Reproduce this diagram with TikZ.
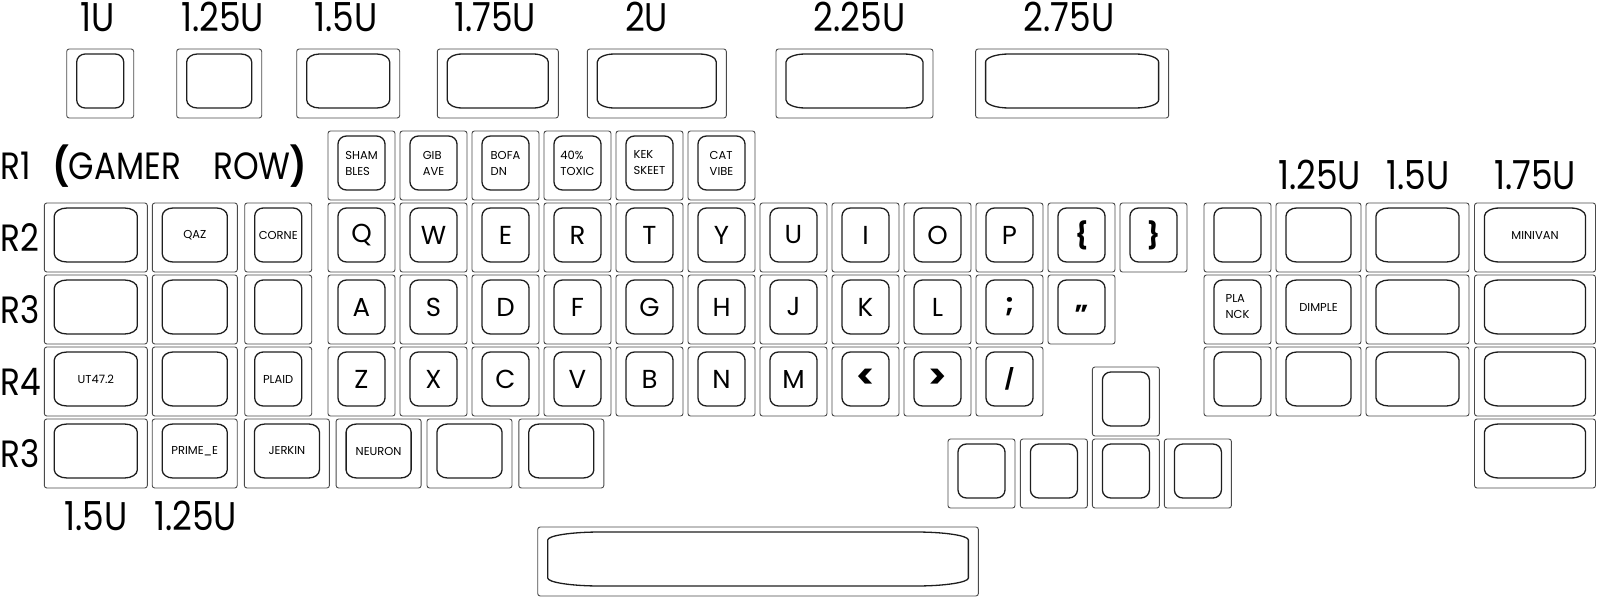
\documentclass[tikz,border=0pt]{standalone}
\usepackage{fontspec}
\setmainfont{Poppins}
\newfontfamily\darPoppins{Poppins}[FakeStretch=0.86]
\usepackage{xcolor}
\usepackage{tikz}
\definecolor{kenarGri}{HTML}{4A4A4A}
\definecolor{tusKoyu}{HTML}{1E1E1E}

\newcommand{\capkey}[6][]{%
  \pgfmathsetmacro{\kx}{#3}%
  \pgfmathsetmacro{\ky}{#4}%
  \pgfmathsetmacro{\kw}{72*#5-5}%
  \pgfmathsetmacro{\krx}{max(8,8.5*#5)}%
  \pgfmathsetmacro{\kl}{\kx+10}%
  \pgfmathsetmacro{\kr}{\kx+\kw-10}%
  \pgfmathsetmacro{\kt}{\ky+5}%
  \pgfmathsetmacro{\kb}{\ky+59}%
  \draw[keyrim] (\kx,\ky) rectangle ++(\kw,69);
  \draw[keytop] (\kl,\kt+8) .. controls (\kl,\kt+3.6) and (\kl+0.45*\krx,\kt) .. (\kl+\krx,\kt)
    -- (\kr-\krx,\kt) .. controls (\kr-0.45*\krx,\kt) and (\kr,\kt+3.6) .. (\kr,\kt+8)
    -- (\kr,\kb-8) .. controls (\kr,\kb-3.6) and (\kr-0.45*\krx,\kb) .. (\kr-\krx,\kb)
    -- (\kl+\krx,\kb) .. controls (\kl+0.45*\krx,\kb) and (\kl,\kb-3.6) .. (\kl,\kb-8) -- cycle;
  \node[keytext,#1] (#2) at ({\kx+\kw/2},{\ky+32}) {#6};
}
\newcommand{\isaret}[1]{\textbf{\fontsize{34}{36}\selectfont #1}}

\begin{document}
\begin{tikzpicture}[x=1pt,y=-1pt,
  keyrim/.style={draw=kenarGri,line width=0.9pt,rounded corners=2.5pt},
  keytop/.style={draw=tusKoyu,line width=1.3pt},
  keytext/.style={text=black,align=left,inner sep=0pt,font=\fontsize{26}{28}\selectfont},
  smalltext/.style={font=\fontsize{11.5}{16}\selectfont},
  sizetext/.style={anchor=base,inner sep=0pt,font=\darPoppins\fontsize{40}{44}\selectfont},
  rowtext/.style={anchor=base west,inner sep=0pt,font=\darPoppins\fontsize{38}{42}\selectfont}]
\useasboundingbox (0,0) rectangle (1597,597);

\capkey{sablonA}{66.7}{49}{1}{}
\capkey{sablonB}{176.7}{49}{1.25}{}
\capkey{sablonC}{296.7}{49}{1.5}{}
\capkey{sablonD}{437.3}{49}{1.75}{}
\capkey{sablonE}{587.3}{49}{2}{}
\capkey{sablonF}{776}{49}{2.25}{}
\capkey{sablonG}{975.6}{49}{2.75}{}
\node[sizetext] (boyA) at (98,31.7) {1U};
\node[sizetext] (boyB) at (222.5,31.7) {1.25U};
\node[sizetext] (boyC) at (346,31.7) {1.5U};
\node[sizetext] (boyD) at (495,31.7) {1.75U};
\node[sizetext] (boyE) at (646.7,31.7) {2U};
\node[sizetext] (boyF) at (859.5,31.7) {2.25U};
\node[sizetext] (boyG) at (1069,31.7) {2.75U};

\node[rowtext] (satirA) at (0,179.3) {R1};
\node[rowtext] (oyuncu) at (53,179.3) {\textbf{(}GAMER\hspace{0.85em}ROW\textbf{)}};
\node[rowtext] (satirB) at (0,251) {R2};
\node[rowtext] (satirC) at (0,323) {R3};
\node[rowtext] (satirD) at (0,395) {R4};
\node[rowtext] (satirE) at (0,467) {R3};

\foreach \lab [count=\i from 0] in {SHAM\\BLES,GIB\\AVE,BOFA\\DN,40\%\\TOXIC,KEK\\SKEET,CAT\\VIBE}
  {\capkey[smalltext]{oyunT\i}{328+72*\i}{131}{1}{\lab}}
\foreach \lab [count=\i from 0] in {Q,W,E,R,T,Y,U,I,O,P,\textbf{\{},\textbf{\}}}
  {\capkey{ustT\i}{328+72*\i}{203}{1}{\lab}}
\foreach \lab [count=\i from 0] in {A,S,D,F,G,H,J,K,L,\textbf{;},\vphantom{A}\smash{\raisebox{-7pt}{\textbf{"}}}}
  {\capkey{ortaT\i}{328+72*\i}{275}{1}{\lab}}
\foreach \lab [count=\i from 0] in {Z,X,C,V,B,N,M,\isaret{<},\isaret{>},\textbf{\fontsize{20}{22}\selectfont/}}
  {\capkey{altT\i}{328+72*\i}{347}{1}{\lab}}

\capkey{solB1}{44.3}{203}{1.5}{}
\capkey[smalltext]{solB2}{152.3}{203}{1.25}{QAZ}
\capkey[smalltext]{solB3}{244.7}{203}{1}{CORNE}
\capkey{solC1}{44.3}{275}{1.5}{}
\capkey{solC2}{152.3}{275}{1.25}{}
\capkey{solC3}{244.7}{275}{1}{}
\capkey[smalltext]{solD1}{44.3}{347}{1.5}{UT47.2}
\capkey{solD2}{152.3}{347}{1.25}{}
\capkey[smalltext]{solD3}{244.7}{347}{1}{PLAID}
\capkey{solE1}{44.3}{419}{1.5}{}
\capkey[smalltext]{solE2}{152.2}{419}{1.25}{PRIME\_E}
\capkey[smalltext]{solE3}{244.4}{419}{1.25}{JERKIN}
\capkey[smalltext]{solE4}{336.1}{419}{1.25}{NEURON}
\capkey{solE5}{427}{419}{1.25}{}
\capkey{solE6}{518.8}{419}{1.25}{}
\node[sizetext] (boyH) at (95.7,530) {1.5U};
\node[sizetext] (boyI) at (195.5,530) {1.25U};

\capkey{bosluk}{537.7}{527}{6.19}{}

\capkey{okYukari}{1092.4}{367}{1}{}
\capkey{okSol}{948}{439}{1}{}
\capkey{okAsagi}{1020.4}{439}{1}{}
\capkey{okSag}{1092.4}{439}{1}{}
\capkey{okSon}{1164.4}{439}{1}{}

\capkey{sagB1}{1204}{203}{1}{}
\capkey{sagB2}{1276}{203}{1.25}{}
\capkey{sagB3}{1366}{203}{1.5}{}
\capkey[smalltext]{sagB4}{1474.5}{203}{1.75}{MINIVAN}
\capkey[smalltext]{sagC1}{1204}{275}{1}{PLA\\NCK}
\capkey[smalltext]{sagC2}{1276}{275}{1.25}{DIMPLE}
\capkey{sagC3}{1366}{275}{1.5}{}
\capkey{sagC4}{1474.5}{275}{1.75}{}
\capkey{sagD1}{1204}{347}{1}{}
\capkey{sagD2}{1276}{347}{1.25}{}
\capkey{sagD3}{1366}{347}{1.5}{}
\capkey{sagD4}{1474.5}{347}{1.75}{}
\capkey{sagE4}{1474.5}{419}{1.75}{}
\node[sizetext] (boyJ) at (1319.5,189) {1.25U};
\node[sizetext] (boyK) at (1418,189) {1.5U};
\node[sizetext] (boyL) at (1535,189) {1.75U};
\end{tikzpicture}
\end{document}
